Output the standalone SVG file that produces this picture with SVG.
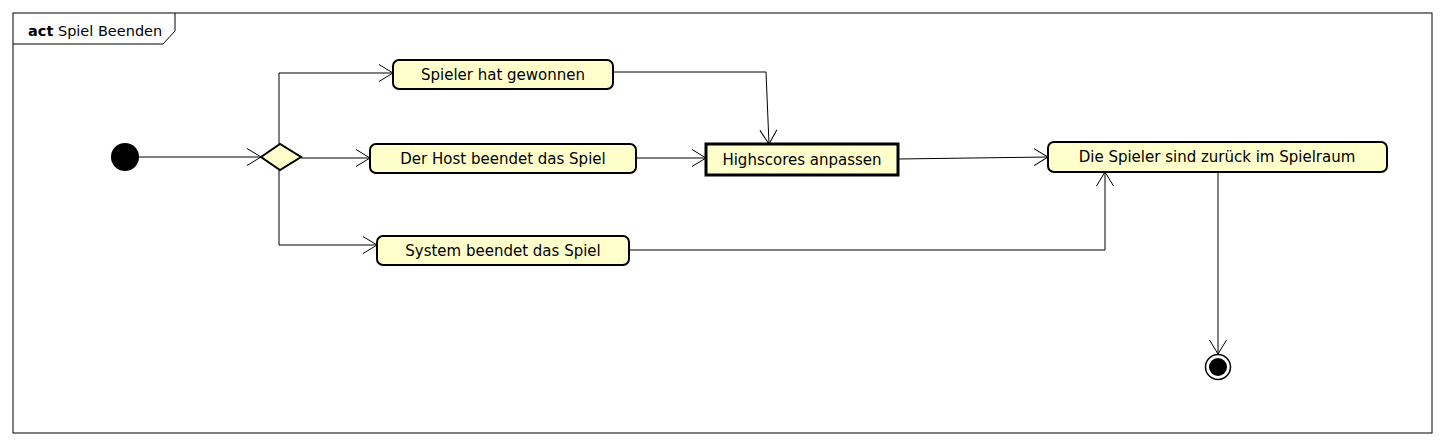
<svg xmlns="http://www.w3.org/2000/svg" width="1444" height="446" viewBox="0 0 1444 446">
<style>
  .act { fill: #FFFFCC; stroke: #000; stroke-width: 2; }
  .act3 { fill: #FFFFCC; stroke: #000; stroke-width: 3; }
  .lbl { font-family: "DejaVu Sans", "Liberation Sans", sans-serif; font-size: 15px; fill: #000; text-anchor: middle; }
  .conn { fill: none; stroke: #000; stroke-width: 1; marker-end: url(#arr); }
</style>
<defs>
  <marker id="arr" markerUnits="userSpaceOnUse" markerWidth="18" markerHeight="20" refX="16" refY="10" orient="auto">
    <path d="M2,1.5 L16,10 L2,18.5" fill="none" stroke="#000" stroke-width="1"/>
  </marker>
</defs>
<rect width="1444" height="446" fill="#fff"/>
<g id="frame">
  <rect x="13" y="13" width="1419" height="420" fill="none" stroke="#000" stroke-width="1"/>
  <path d="M13,44 L163,44 L175,31 L175,13" fill="none" stroke="#000" stroke-width="1"/>
  <text x="28" y="36" font-family="DejaVu Sans, Liberation Sans, sans-serif" font-size="14.5"><tspan font-weight="bold">act</tspan> Spiel Beenden</text>
</g>
<g id="connectors">
  <line class="conn" x1="139" y1="157" x2="261" y2="157"/>
  <polyline class="conn" points="279,144 279,73 393,73"/>
  <line class="conn" x1="301" y1="158" x2="370" y2="158"/>
  <polyline class="conn" points="279,170 279,245 377,245"/>
  <line class="conn" x1="636" y1="158" x2="706" y2="158"/>
  <polyline class="conn" points="613,72 766,72 769,144"/>
  <line class="conn" x1="898" y1="159" x2="1048" y2="157"/>
  <polyline class="conn" points="629,250 1105,250 1105,172"/>
  <line class="conn" x1="1218" y1="172" x2="1218" y2="354"/>
</g>
<g id="start">
  <circle cx="125" cy="157" r="14" fill="#000"/>
</g>
<g id="decision">
  <polygon class="act" points="261,157 280,144 301,157 280,170" stroke-width="2.5"/>
</g>
<g id="gewonnen">
  <rect class="act" x="393" y="60" width="220" height="29" rx="6"/>
  <text class="lbl" x="503" y="80">Spieler hat gewonnen</text>
</g>
<g id="host">
  <rect class="act" x="370" y="144" width="266" height="29" rx="6"/>
  <text class="lbl" x="503" y="164">Der Host beendet das Spiel</text>
</g>
<g id="system">
  <rect class="act" x="377" y="236" width="252" height="29" rx="6"/>
  <text class="lbl" x="503" y="256">System beendet das Spiel</text>
</g>
<g id="highscores">
  <rect class="act3" x="706" y="144" width="192" height="31"/>
  <text class="lbl" x="802" y="165">Highscores anpassen</text>
</g>
<g id="spielraum">
  <rect class="act" x="1048" y="142" width="339" height="30" rx="6"/>
  <text class="lbl" x="1217" y="162">Die Spieler sind zurück im Spielraum</text>
</g>
<g id="end">
  <circle cx="1218" cy="367" r="12.5" fill="#fff" stroke="#000" stroke-width="1.5"/>
  <circle cx="1218" cy="367" r="9" fill="#000"/>
</g>
</svg>
